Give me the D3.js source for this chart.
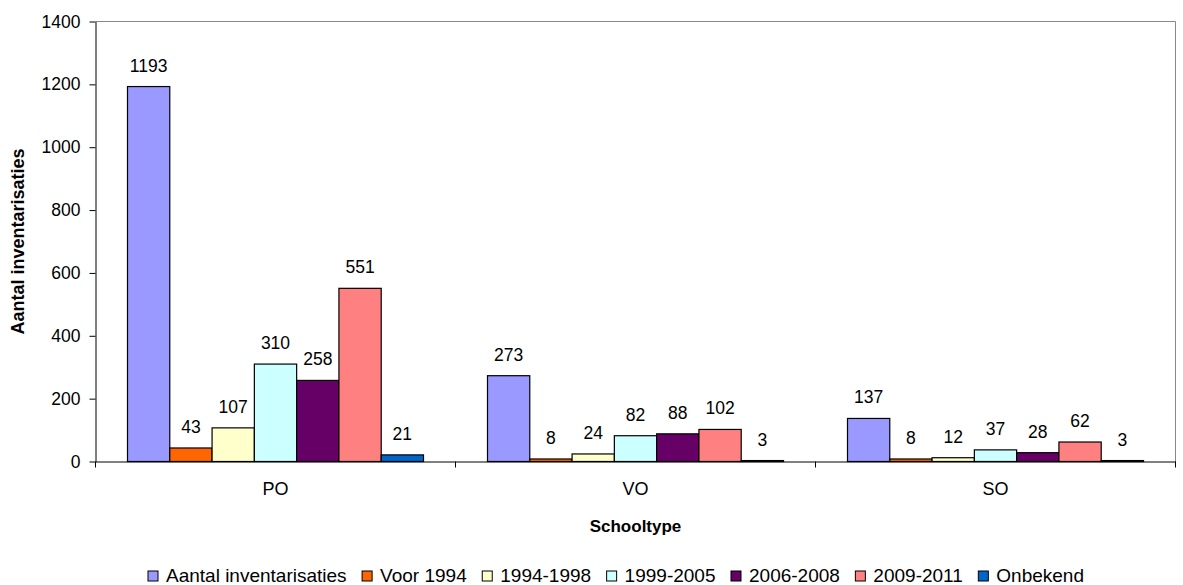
<!DOCTYPE html>
<html><head><meta charset="utf-8">
<script src="https://cdn.jsdelivr.net/npm/d3@7"></script>
<style>body{margin:0;background:#fff}svg{display:block;font-family:Arial,"Liberation Sans",sans-serif}</style>
</head><body><svg id="c" width="1183" height="585"></svg>
<script>
const categories = ["PO", "VO", "SO"];
const seriesNames = ["Aantal inventarisaties", "Voor 1994", "1994-1998", "1999-2005", "2006-2008", "2009-2011", "Onbekend"];
const aantal = [1193, 273, 137];
const voor1994 = [43, 8, 8];
const y1994_1998 = [107, 24, 12];
const y1999_2005 = [310, 82, 37];
const y2006_2008 = [258, 88, 28];
const y2009_2011 = [551, 102, 62];
const onbekend = [21, 3, 3];
const yTicks = [0, 200, 400, 600, 800, 1000, 1200, 1400];
const colors = ["#9999FF", "#FF6600", "#FFFFCC", "#CCFFFF", "#660066", "#FF8080", "#0066CC"];
const seriesValues = [aantal, voor1994, y1994_1998, y1999_2005, y2006_2008, y2009_2011, onbekend];

const FONT = "Arial, Liberation Sans, sans-serif";
const svg = d3.select("#c");
const m = {l: 95.5, r: 1175.5, t: 21.5, b: 461.5};
const x0 = d3.scaleBand().domain(categories).range([m.l, m.r]).paddingInner(0).paddingOuter(0);
const x1 = d3.scaleBand().domain(seriesNames).range([32, x0.bandwidth() - 32]);
const y = d3.scaleLinear().domain([0, 1400]).range([m.b, m.t]);

// plot border (grey top/right)
svg.append("path").attr("d", `M${m.l},${m.t}H${m.r}V${m.b}`).attr("fill", "none").attr("stroke", "#888").attr("stroke-width", 1);

// bars
const g = svg.append("g");
seriesValues.forEach((vals, si) => {
  categories.forEach((c, ci) => {
    const v = vals[ci];
    const bx = x0(c) + x1(seriesNames[si]);
    g.append("rect").attr("x", bx).attr("y", y(v)).attr("width", x1.bandwidth()).attr("height", y(0) - y(v))
      .attr("fill", colors[si]).attr("stroke", "#000").attr("stroke-width", 1.2);
    g.append("text").attr("x", bx + x1.bandwidth() / 2).attr("y", y(v) - 15).attr("text-anchor", "middle")
      .attr("font-size", 17.5).attr("fill", "#000").text(v);
  });
});

// y axis
const ya = svg.append("g").attr("transform", `translate(${m.l},0)`)
  .call(d3.axisLeft(y).tickValues(yTicks).tickFormat(d3.format("d")).tickSize(6).tickPadding(9).tickSizeOuter(0));
ya.select(".domain").attr("stroke", "#000");
ya.selectAll("line").attr("stroke", "#000");
ya.selectAll("text").attr("font-size", 17.5).attr("fill", "#000").attr("font-family", FONT);

// x axis
const xa = svg.append("g").attr("transform", `translate(0,${m.b})`)
  .call(d3.axisBottom(x0).tickSize(0).tickPadding(21).tickSizeOuter(0));
xa.select(".domain").attr("stroke", "#000");
xa.selectAll("text").attr("font-size", 18).attr("fill", "#000").attr("font-family", FONT);
// boundary ticks
const bounds = categories.map(c => x0(c)).concat([m.r]);
svg.append("g").selectAll("line").data(bounds).join("line")
  .attr("x1", d => d).attr("x2", d => d).attr("y1", m.b).attr("y2", m.b + 6).attr("stroke", "#000");

// axis titles
svg.append("text").attr("transform", `translate(24,${(m.t + m.b) / 2}) rotate(-90)`).attr("text-anchor", "middle")
  .attr("font-size", 18).attr("font-weight", "bold").text("Aantal inventarisaties");
svg.append("text").attr("x", (m.l + m.r) / 2).attr("y", 531.5).attr("text-anchor", "middle")
  .attr("font-size", 17).attr("font-weight", "bold").text("Schooltype");

// legend
const lg = svg.append("g");
const items = lg.selectAll("g").data(seriesNames).join("g");
items.append("rect").attr("width", 10).attr("height", 10).attr("y", -11).attr("fill", (d, i) => colors[i]).attr("stroke", "#000").attr("stroke-width", 1);
items.append("text").attr("x", 18).attr("y", 0).attr("font-size", 19).text(d => d);
let cx = 0;
const pos = [];
items.each(function () {
  const w = d3.select(this).select("text").node().getComputedTextLength();
  pos.push(cx);
  cx += 18 + w + 15.5;
});
const total = cx - 15.5;
const start = 616 - total / 2;
items.attr("transform", (d, i) => `translate(${start + pos[i]},582)`);
</script></body></html>
